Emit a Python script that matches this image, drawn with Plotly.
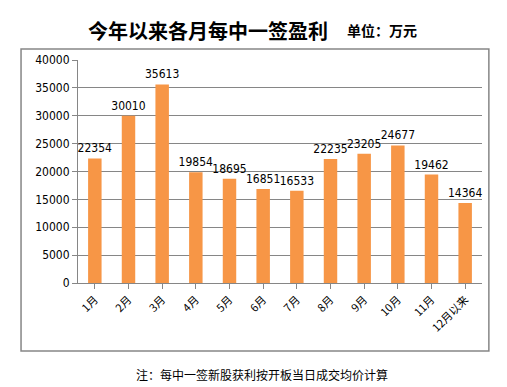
import plotly.graph_objects as go

months = ["1月", "2月", "3月", "4月", "5月", "6月", "7月", "8月", "9月", "10月", "11月", "12月以来"]
profits = [22354, 30010, 35613, 19854, 18695, 16851, 16533, 22235, 23205, 24677, 19462, 14364]
y_ticks = [0, 5000, 10000, 15000, 20000, 25000, 30000, 35000, 40000]

fig = go.Figure()
fig.add_trace(go.Bar(
    x=months, y=profits,
    marker=dict(color="#F79646", line=dict(width=0)),
    text=[str(v) for v in profits], textposition="outside",
    textfont=dict(size=12, color="#000000", family="DejaVu Sans Condensed, DejaVu Sans"),
    cliponaxis=False,
))

fig.update_layout(
    width=507, height=387,
    margin=dict(l=70, r=33, t=52, b=112),
    paper_bgcolor="white", plot_bgcolor="white",
    showlegend=False, bargap=0.6,
    uniformtext=dict(minsize=12, mode="show"),
    font=dict(family="Noto Sans CJK SC", color="#000000"),
    xaxis=dict(
        tickangle=-45, tickfont=dict(size=11, family="Noto Sans CJK SC"),
        showline=True, linecolor="#868686", ticks="outside", ticklen=5, tickcolor="#868686",
        showgrid=False,
    ),
    yaxis=dict(
        range=[0, 40000], tickvals=y_ticks, ticktext=[str(v) for v in y_ticks],
        tickfont=dict(size=12, family="DejaVu Sans Condensed, DejaVu Sans"),
        showgrid=True, gridcolor="#868686", gridwidth=1,
        showline=True, linecolor="#868686", ticks="outside", ticklen=5, tickcolor="#868686",
        zeroline=False,
    ),
    shapes=[dict(type="rect", xref="paper", yref="paper",
                 x0=-0.141, x1=1.017, y0=-0.305, y1=1.049,
                 line=dict(color="#868686", width=1.5), fillcolor="rgba(0,0,0,0)", layer="below")],
    annotations=[
        dict(text="<b>今年以来各月每中一签盈利</b>", xref="paper", yref="paper",
             x=(200 - 70) / 404, y=(275 - 22) / 223, showarrow=False,
             font=dict(size=20, family="Noto Sans CJK SC"), xanchor="center", yanchor="middle"),
        dict(text="<b>单位：万元</b>", xref="paper", yref="paper",
             x=(337 - 70) / 404, y=(275 - 22) / 223, showarrow=False,
             font=dict(size=14, family="Noto Sans CJK SC"), xanchor="left", yanchor="middle"),
        dict(text="注：每中一签新股获利按开板当日成交均价计算", xref="paper", yref="paper",
             x=(254 - 70) / 404, y=(275 - 366) / 223, showarrow=False,
             font=dict(size=12, family="Noto Sans CJK SC"), xanchor="center", yanchor="middle"),
    ],
)

fig.write_html("out.html")
